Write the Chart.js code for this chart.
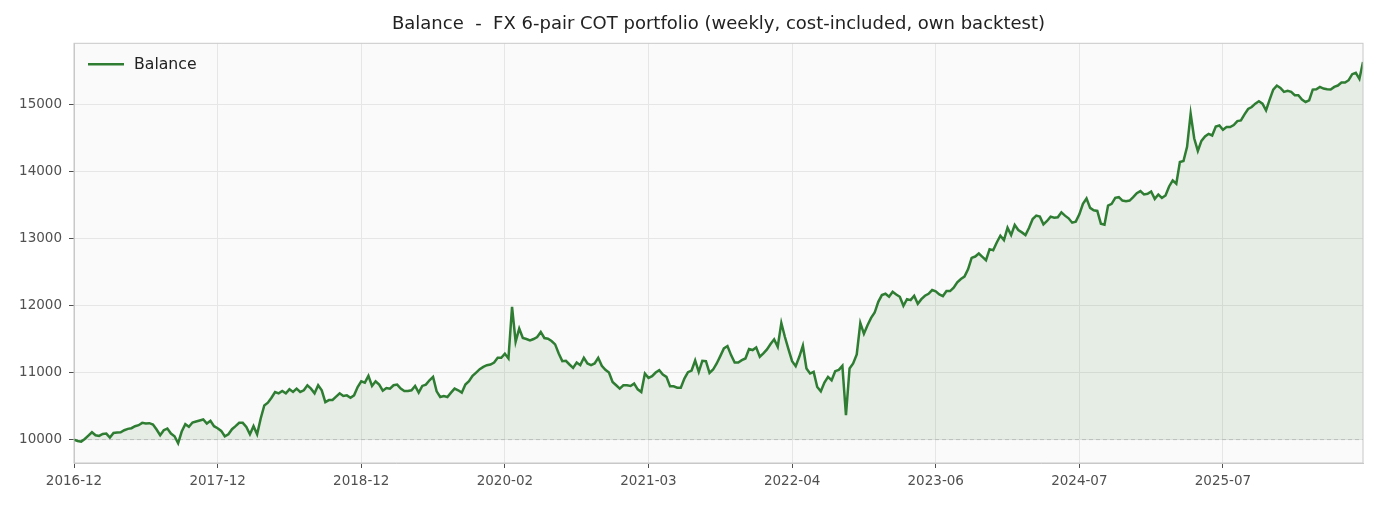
<!DOCTYPE html>
<html>
<head>
<meta charset="utf-8">
<title>Balance - FX 6-pair COT portfolio</title>
<script src="https://cdn.jsdelivr.net/npm/chart.js@4.4.1/dist/chart.umd.min.js"></script>
<style>
  html, body { margin: 0; padding: 0; background: #ffffff; }
  #wrap { width: 1380px; height: 506px; }
</style>
</head>
<body>
<div id="wrap"><canvas id="balanceChart" width="1380" height="506"></canvas></div>
<script>
// weekly balance (40 points between date ticks)
var balance = [
    10000, 9980, 9970, 10010, 10060, 10110, 10065, 10055, 10085, 10090,
    10030, 10100, 10105, 10110, 10140, 10160, 10170, 10200, 10215, 10250,
    10240, 10245, 10225, 10150, 10065, 10140, 10165, 10090, 10050, 9945,
    10120, 10230, 10190, 10255, 10270, 10285, 10300, 10240, 10280, 10200,
    10170, 10130, 10050, 10080, 10155, 10200, 10250, 10250, 10190, 10080,
    10200, 10080, 10315, 10510, 10550, 10625, 10710, 10690, 10725, 10690,
    10750, 10710, 10760, 10710, 10735, 10810, 10760, 10690, 10810, 10735,
    10560, 10590, 10590, 10640, 10690, 10650, 10660, 10625, 10660, 10785,
    10870, 10850, 10950, 10800, 10870, 10820, 10730, 10770, 10760, 10810,
    10820, 10760, 10725, 10725, 10735, 10800, 10700, 10800, 10820, 10885,
    10935, 10720, 10635, 10650, 10635, 10700, 10760, 10735, 10700, 10820,
    10870, 10950, 11000, 11050, 11085, 11110, 11120, 11150, 11220, 11220,
    11280, 11210, 11980, 11460, 11655, 11515, 11500, 11480, 11500, 11530,
    11605, 11515, 11505, 11470, 11420, 11285, 11170, 11175, 11120, 11070,
    11150, 11110, 11220, 11135, 11110, 11135, 11220, 11100, 11040, 11000,
    10860, 10810, 10760, 10810, 10810, 10800, 10835, 10750, 10710, 10985,
    10920, 10945, 11000, 11035, 10970, 10935, 10795, 10795, 10775, 10775,
    10910, 11005, 11030, 11180, 11010, 11175, 11170, 10995, 11045, 11135,
    11245, 11360, 11395, 11260, 11150, 11150, 11185, 11210, 11350, 11335,
    11375, 11235, 11285, 11345, 11425, 11495, 11385, 11740, 11530, 11345,
    11170, 11095, 11235, 11400, 11060, 10985, 11010, 10785, 10720, 10850,
    10935, 10885, 11020, 11040, 11100, 10365, 11060, 11135, 11270, 11740,
    11580, 11705, 11815, 11895, 12055, 12155, 12175, 12130, 12205, 12165,
    12130, 11995, 12095, 12080, 12145, 12025, 12095, 12145, 12175, 12230,
    12210, 12165, 12140, 12215, 12215, 12265, 12345, 12395, 12430, 12540,
    12710, 12730, 12775, 12725, 12675, 12840, 12825, 12940, 13040, 12975,
    13160, 13050, 13200, 13125, 13090, 13050, 13160, 13290, 13340, 13325,
    13210, 13260, 13325, 13310, 13315, 13390, 13340, 13300, 13235, 13250,
    13360, 13515, 13595, 13455, 13420, 13410, 13220, 13205, 13490, 13515,
    13605, 13615, 13565, 13555, 13565, 13615, 13675, 13705, 13655, 13665,
    13700, 13590, 13655, 13605, 13640, 13775, 13865, 13815, 14140, 14155,
    14365, 14860, 14490, 14305, 14455, 14520, 14560, 14535, 14670, 14685,
    14620, 14660, 14660, 14690, 14750, 14760, 14850, 14930, 14960, 15010,
    15045, 15010, 14910, 15070, 15220, 15280, 15245, 15185, 15200, 15185,
    15135, 15135, 15070, 15035, 15060, 15220, 15225, 15260, 15235, 15225,
    15220, 15260, 15280, 15325, 15325, 15360, 15450, 15470, 15380, 15630
];

// x tick labels, one every tickStep points
var tickLabels = ['2016-12', '2017-12', '2018-12', '2020-02', '2021-03', '2022-04', '2023-06', '2024-07', '2025-07'];
var tickStep = 40;

var yTicks = [10000, 11000, 12000, 13000, 14000, 15000];
var startBalance = 10000;

var weeks = balance.map(function(v, i) { return i; });

var lineColor = '#2e7d32';
var gridColor = '#e6e6e6';
var spineColor = '#c8c8c8';
var tickFont = { family: 'DejaVu Sans', size: 13.5 };

// plot background, frame, dashed start-balance line and the legend inside the plot
var plotDecor = {
    id: 'plotDecor',
    beforeDraw: function(chart) {
        var a = chart.chartArea, ctx = chart.ctx;
        ctx.save();
        ctx.fillStyle = '#fafafa';
        ctx.fillRect(a.left, a.top, a.right - a.left, a.bottom - a.top);
        ctx.restore();
    },
    beforeDatasetsDraw: function(chart) {
        var a = chart.chartArea, ctx = chart.ctx;
        var y = chart.scales.y.getPixelForValue(startBalance);
        ctx.save();
        ctx.strokeStyle = '#c4c4c4';
        ctx.lineWidth = 1;
        ctx.setLineDash([4, 3]);
        ctx.beginPath();
        ctx.moveTo(a.left, y);
        ctx.lineTo(a.right, y);
        ctx.stroke();
        ctx.restore();
    },
    afterDraw: function(chart) {
        var a = chart.chartArea, ctx = chart.ctx;
        ctx.save();
        ctx.strokeStyle = spineColor;
        ctx.lineWidth = 1;
        ctx.strokeRect(a.left, a.top, a.right - a.left, a.bottom - a.top);

        // legend: short line + label, top-left inside the plot
        var ds = chart.data.datasets[0];
        var ly = a.top + 21;
        ctx.strokeStyle = ds.borderColor;
        ctx.lineWidth = 2.6;
        ctx.beginPath();
        ctx.moveTo(a.left + 14, ly);
        ctx.lineTo(a.left + 50, ly);
        ctx.stroke();
        ctx.fillStyle = '#222222';
        ctx.font = '15.7px "DejaVu Sans"';
        ctx.textBaseline = 'middle';
        ctx.fillText(ds.label, a.left + 60, ly + 0.5);
        ctx.restore();
    }
};

var ctx = document.getElementById('balanceChart').getContext('2d');
new Chart(ctx, {
    type: 'line',
    data: {
        labels: weeks,
        datasets: [{
            label: 'Balance',
            data: balance,
            borderColor: lineColor,
            backgroundColor: 'rgba(46, 125, 50, 0.1)',
            borderWidth: 2.5,
            pointRadius: 0,
            tension: 0,
            fill: { value: startBalance }
        }]
    },
    options: {
        responsive: false,
        animation: false,
        layout: { padding: { left: 0, right: 17, top: 0, bottom: 0 } },
        plugins: {
            title: {
                display: true,
                fullSize: false,   // centre over the plot, not the canvas
                text: 'Balance  -  FX 6-pair COT portfolio (weekly, cost-included, own backtest)',
                color: '#222222',
                font: { family: 'DejaVu Sans', size: 18, weight: 'normal' },
                padding: { top: 13.5, bottom: 8.2 }
            },
            legend: { display: false },
            tooltip: { enabled: false }
        },
        scales: {
            x: {
                type: 'linear',
                min: 0,
                max: balance.length - 1,
                afterBuildTicks: function(s) {
                    s.ticks = tickLabels.map(function(t, k) { return { value: k * tickStep }; });
                },
                afterFit: function(s) { s.height = 43; },
                ticks: {
                    autoSkip: false,
                    maxRotation: 0,
                    padding: 5.5,
                    color: '#505050',
                    font: tickFont,
                    callback: function(value, index) { return tickLabels[index]; }
                },
                grid: { color: gridColor, tickColor: '#505050', tickLength: 5 },
                border: { color: spineColor }
            },
            y: {
                min: 9651,
                max: 15910,
                afterBuildTicks: function(s) {
                    s.ticks = yTicks.map(function(v) { return { value: v }; });
                },
                afterFit: function(s) { s.width = 74; },
                ticks: {
                    padding: 7,
                    color: '#505050',
                    font: tickFont,
                    callback: function(value) { return String(value); }
                },
                grid: { color: gridColor, tickColor: '#505050', tickLength: 5 },
                border: { color: spineColor }
            }
        }
    },
    plugins: [plotDecor]
});
</script>
</body>
</html>
